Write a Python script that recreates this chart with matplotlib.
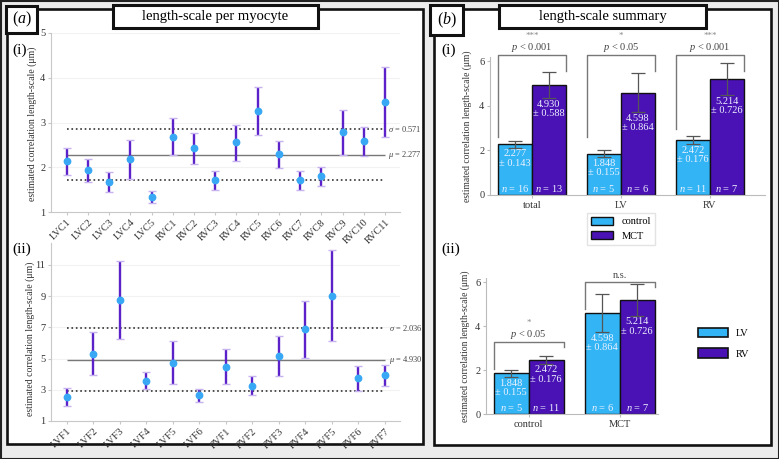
import matplotlib
matplotlib.use("Agg")
import matplotlib.pyplot as plt
from matplotlib.patches import Rectangle, Patch
import numpy as np

plt.rcParams['font.family'] = ['Liberation Serif', 'DejaVu Serif']
plt.rcParams['mathtext.fontset'] = 'custom'
plt.rcParams['mathtext.rm'] = 'Liberation Serif'
plt.rcParams['mathtext.it'] = 'Liberation Serif:italic'

# (a)(i) length-scale per cell
cell_names = ["LVC1", "LVC2", "LVC3", "LVC4", "LVC5", "RVC1", "RVC2", "RVC3",
              "RVC4", "RVC5", "RVC6", "RVC7", "RVC8", "RVC9", "RVC10", "RVC11"]
cell_mean = [2.13, 1.94, 1.68, 2.18, 1.34, 2.68, 2.42, 1.72,
             2.56, 3.26, 2.30, 1.72, 1.80, 2.78, 2.58, 3.45]
cell_upper = [2.42, 2.19, 1.90, 2.60, 1.48, 3.09, 2.77, 1.92,
              2.95, 3.80, 2.59, 1.92, 2.01, 3.29, 2.90, 4.23]
cell_lower = [1.83, 1.68, 1.45, 1.74, 1.20, 2.27, 2.07, 1.49,
              2.15, 2.71, 1.98, 1.49, 1.58, 2.27, 2.26, 2.68]
cell_mu, cell_sigma = 2.277, 0.571

# (a)(ii) length-scale per fibre
fibre_names = ["LVF1", "LVF2", "LVF3", "LVF4", "LVF5", "LVF6", "RVF1",
               "RVF2", "RVF3", "RVF4", "RVF5", "RVF6", "RVF7"]
fibre_mean = [2.56, 5.29, 8.74, 3.59, 4.74, 2.65, 4.48,
              3.26, 5.19, 6.88, 9.03, 3.74, 3.95]
fibre_upper = [3.14, 6.68, 11.26, 4.12, 6.11, 3.07, 5.59,
               3.86, 6.43, 8.69, 11.92, 4.55, 4.59]
fibre_lower = [1.98, 3.93, 6.24, 3.07, 3.35, 2.22, 3.37,
               2.65, 3.91, 5.04, 6.15, 2.92, 3.24]
fibre_mu, fibre_sigma = 4.930, 2.036

# (b)(i) summary control vs MCT
groups = ["total", "LV", "RV"]
ctrl_mean = [2.277, 1.848, 2.472]
ctrl_err = [0.143, 0.155, 0.176]
ctrl_n = [16, 5, 11]
mct_mean = [4.930, 4.598, 5.214]
mct_err = [0.588, 0.864, 0.726]
mct_n = [13, 6, 7]
sig_p = ["$p$ < 0.001", "$p$ < 0.05", "$p$ < 0.001"]
sig_stars = ["***", "*", "***"]
brk_top = [6.3, 6.3, 6.3]
brk_left = [2.6, 2.6, 2.97]
brk_right = [5.55, 5.55, 5.55]

# (b)(ii) summary LV vs RV
conds = ["control", "MCT"]
lv_mean = [1.848, 4.598]
lv_err = [0.155, 0.864]
lv_n = [5, 6]
rv_mean = [2.472, 5.214]
rv_err = [0.176, 0.726]
rv_n = [11, 7]
sig2_p = ["$p$ < 0.05", ""]
sig2_stars = ["*", "n.s."]
brk2_top = [3.3, 6.0]
brk2_left = [2.05, 4.8]
brk2_right = [3.06, 5.79]

BLUE = "#33b4f4"
PURPLE = "#4a12b4"
DOT = "#38a8f4"
EBAR = "#5a22c8"
CAP = "#c6b2ee"
TXT = "#333333"

W, H = 779, 459
fig = plt.figure(figsize=(W / 100, H / 100), dpi=100)
fig.patch.set_facecolor("#ececec")


def rect(x0, y0, x1, y1, **kw):
    r = Rectangle((x0 / W, 1 - y1 / H), (x1 - x0) / W, (y1 - y0) / H,
                  transform=fig.transFigure, **kw)
    fig.patches.append(r)


def px_axes(x0, y0, x1, y1):
    return fig.add_axes([x0 / W, 1 - y1 / H, (x1 - x0) / W, (y1 - y0) / H])


def ftext(x, y, s, **kw):
    fig.text(x / W, 1 - y / H, s, ha="center", va="center", **kw)


# frames
rect(0.5, 0.5, W - 0.5, H - 0.5, fill=False, ec="#222222", lw=1.5, zorder=-2)
rect(7, 9, 423, 444, fc="white", ec="#111111", lw=1.9, zorder=-1)
rect(434, 9, 771, 445, fc="white", ec="#111111", lw=1.9, zorder=-1)
for bx in [(6, 6, 37, 33), (113, 5, 318, 28), (430, 5, 463, 35), (499, 5, 706, 28)]:
    rect(*bx, fc="white", ec="#111111", lw=2.2, zorder=5)
ftext(21.5, 19.5, "($a$)", fontsize=11.5, zorder=6)
ftext(215.5, 16.5, "length-scale per myocyte", fontsize=10.5, zorder=6)
ftext(446.5, 20.5, "($b$)", fontsize=11.5, zorder=6)
ftext(602.5, 16.5, "length-scale summary", fontsize=10.5, zorder=6)
ftext(20, 50, "(i)", fontsize=11)
ftext(22, 249, "(ii)", fontsize=11)
ftext(449, 50, "(i)", fontsize=11)
ftext(451, 249, "(ii)", fontsize=11)

YLAB = "estimated correlation length-scale (μm)"


def style(ax, spine="#c8c8c8"):
    ax.set_facecolor("none")
    for s in ["top", "right"]:
        ax.spines[s].set_visible(False)
    for s in ["left", "bottom"]:
        ax.spines[s].set_color(spine)
        ax.spines[s].set_linewidth(0.8)
    ax.tick_params(length=2, color=spine, labelcolor=TXT, labelsize=7.5, pad=2)


def dot_panel(ax, names, mean, upper, lower, mu, sigma, xlim, ylim, yticks):
    x = np.arange(len(names))
    mean = np.array(mean)
    yerr = [mean - np.array(lower), np.array(upper) - mean]
    ax.grid(axis="y", color="#f2f2f2", lw=0.8)
    ax.set_axisbelow(True)
    ax.hlines(mu, x[0], x[-1], color="#777777", lw=1.0, zorder=2)
    ax.hlines([mu + sigma, mu - sigma], x[0], x[-1], color="#333333",
              lw=1.2, linestyles=":", zorder=2)
    eb = ax.errorbar(x, mean, yerr=yerr, fmt="o", color=DOT, ms=4.6, mec=DOT,
                     ecolor=EBAR, elinewidth=1.7, capsize=3, capthick=1, zorder=3)
    for cap in eb[1]:
        cap.set_markeredgecolor(CAP)
        cap.set_color(CAP)
    ax.text(x[-1] + 0.15, mu + sigma, rf"$\sigma$ = {sigma:.3f}", fontsize=6,
            color="#444444", va="center", ha="left")
    ax.text(x[-1] + 0.15, mu, rf"$\mu$ = {mu:.3f}", fontsize=6,
            color="#444444", va="center", ha="left")
    style(ax)
    ax.set_xlim(*xlim)
    ax.set_ylim(*ylim)
    ax.set_yticks(yticks)
    ax.set_xticks(x)
    ax.set_xticklabels(names, rotation=45, ha="right", va="top",
                       rotation_mode="anchor", fontsize=7.5)
    ax.set_ylabel(YLAB, fontsize=7, color=TXT)


ax1 = px_axes(51, 33, 400, 212)
dot_panel(ax1, cell_names, cell_mean, cell_upper, cell_lower, cell_mu, cell_sigma,
          (-0.74, 15.71), (1, 5), [1, 2, 3, 4, 5])
ax1.yaxis.set_label_coords(-0.04, 0.49)

ax2 = px_axes(51, 243, 400, 421)
dot_panel(ax2, fibre_names, fibre_mean, fibre_upper, fibre_lower, fibre_mu, fibre_sigma,
          (-0.6, 12.57), (1, 12.4), [1, 3, 5, 7, 9, 11])
ax2.yaxis.set_label_coords(-0.046, 0.46)


def bar_label(ax, xc, val, err, n):
    ax.text(xc, val - err - 0.08, f"{val:.3f}\n± {err:.3f}", ha="center", va="top",
            fontsize=7.5, color="#eef2ff", linespacing=1.05, zorder=4)
    ax.text(xc, 0.28, f"$n$ = {n}", ha="center", va="center", fontsize=7.5,
            color="#eef2ff", zorder=4)


def bracket(ax, x0, x1, top, left, right, p, star):
    ax.plot([x0, x0, x1, x1], [left, top, top, right], color="#777777", lw=1.0,
            clip_on=False, zorder=3)
    xm = (x0 + x1) / 2
    if p:
        ax.text(xm, top + 0.33, p, ha="center", va="center", fontsize=7.5,
                color="#444444", clip_on=False)
        ax.text(xm, top + 0.85, star, ha="center", va="center", fontsize=6.5,
                color="#888888", clip_on=False)
    else:
        ax.text(xm, top + 0.3, star, ha="center", va="center", fontsize=7.5,
                color="#444444", clip_on=False)


def bar_panel(ax, labels, m1, e1, n1, m2, e2, n2, c1, c2, w, tops, lefts, rights, ps, stars):
    x = np.arange(len(labels))
    ax.bar(x - w / 2, m1, w, color=c1, edgecolor="#111111", lw=1.0, zorder=2)
    ax.bar(x + w / 2, m2, w, color=c2, edgecolor="#111111", lw=1.0, zorder=2)
    ax.errorbar(x - w / 2, m1, yerr=e1, fmt="none", ecolor="#555555", elinewidth=0.9,
                capsize=4.8, capthick=0.9, zorder=3)
    ax.errorbar(x + w / 2, m2, yerr=e2, fmt="none", ecolor="#555555", elinewidth=0.9,
                capsize=4.8, capthick=0.9, zorder=3)
    for i in range(len(labels)):
        bar_label(ax, x[i] - w / 2, m1[i], e1[i], n1[i])
        bar_label(ax, x[i] + w / 2, m2[i], e2[i], n2[i])
        bracket(ax, x[i] - w, x[i] + w, tops[i], lefts[i], rights[i], ps[i], stars[i])
    style(ax, "#bbbbbb")
    ax.set_xticks(x)
    ax.set_xticklabels(labels, fontsize=7.5)
    ax.set_ylim(0, 6.2)
    ax.set_yticks([0, 2, 4, 6])
    ax.set_ylabel(YLAB, fontsize=6.9, color=TXT)


ax3 = px_axes(490, 57, 765, 195)
bar_panel(ax3, groups, ctrl_mean, ctrl_err, ctrl_n, mct_mean, mct_err, mct_n,
          BLUE, PURPLE, 0.382, brk_top, brk_left, brk_right, sig_p, sig_stars)
ax3.set_xlim(-0.47, 2.62)
ax3.yaxis.set_label_coords(-0.065, 0.5)
ax3.legend(handles=[Patch(fc=BLUE, ec="#111111", lw=1.0, label="control"),
                    Patch(fc=PURPLE, ec="#111111", lw=1.0, label="MCT")],
           loc="upper center", bbox_to_anchor=(0.476, -0.09), fontsize=7.5,
           frameon=True, fancybox=False, edgecolor="#dddddd", handlelength=2.1,
           handleheight=0.8, labelspacing=0.45, borderpad=0.4, handletextpad=0.8)

ax4 = px_axes(486, 278, 658, 414)
bar_panel(ax4, conds, lv_mean, lv_err, lv_n, rv_mean, rv_err, rv_n,
          BLUE, PURPLE, 0.385, brk2_top, brk2_left, brk2_right, sig2_p, sig2_stars)
ax4.set_xlim(-0.47, 1.42)
ax4.yaxis.set_label_coords(-0.093, 0.5)
ax4.legend(handles=[Patch(fc=BLUE, ec="#111111", lw=1.2, label="LV"),
                    Patch(fc=PURPLE, ec="#111111", lw=1.2, label="RV")],
           loc="center left", bbox_to_anchor=(1.18, 0.52), fontsize=7.5,
           frameon=False, handlelength=2.8, handleheight=1.0, labelspacing=1.0,
           handletextpad=0.8)

fig.savefig("out.png", dpi=100, facecolor=fig.get_facecolor())
